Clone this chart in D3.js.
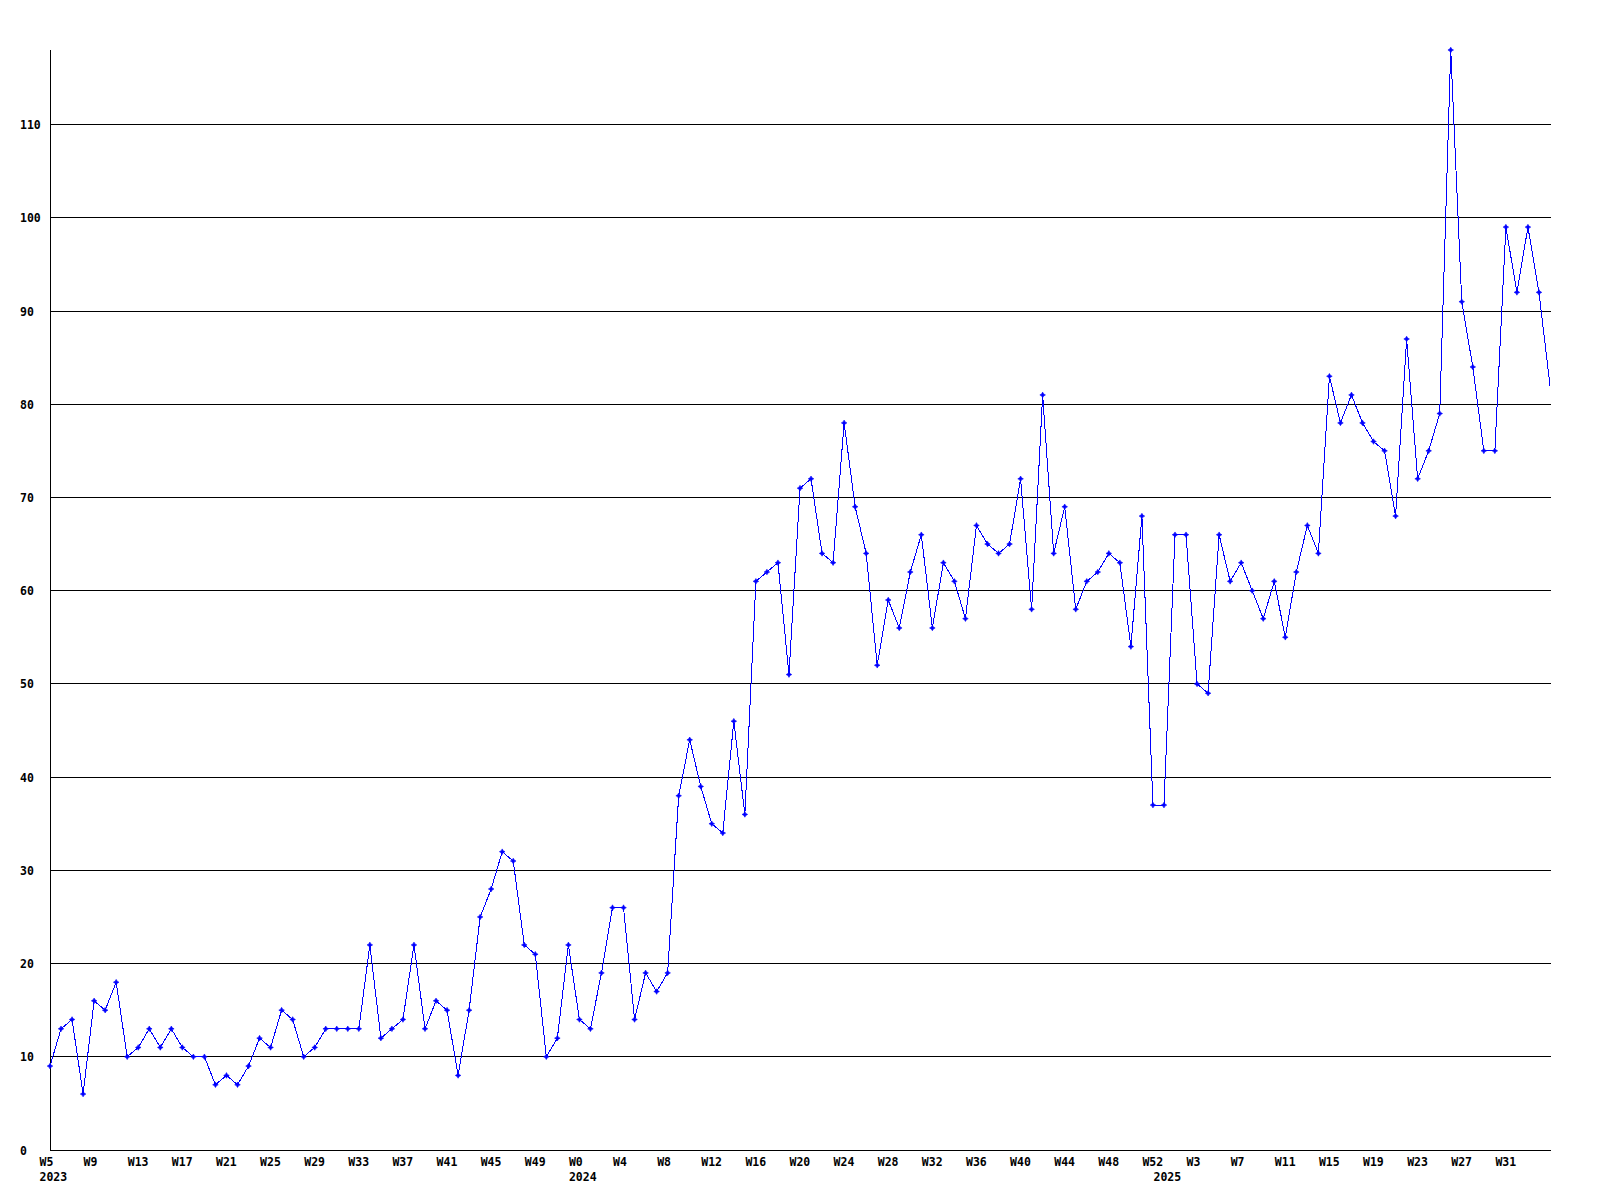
<!DOCTYPE html>
<html>
<head>
<meta charset="utf-8">
<script src="https://cdn.jsdelivr.net/npm/d3@7"></script>
<style>
  html, body { margin: 0; padding: 0; background: #ffffff; }
  svg { display: block; }
  text { font-family: "DejaVu Sans Mono", "Liberation Mono", monospace; font-weight: bold; font-size: 11.5px; fill: #000000; }
</style>
</head>
<body>
<svg id="chart" width="1600" height="1200"></svg>
<script>
// ---- data ----
const years = ["2023", "2024", "2025"];
const weeks2023 = [5,6,7,8,9,10,11,12,13,14,15,16,17,18,19,20,21,22,23,24,25,26,27,28,29,30,31,32,33,34,35,36,37,38,39,40,41,42,43,44,45,46,47,48,49,50,51,52];
const weeks2024 = [0,1,2,3,4,5,6,7,8,9,10,11,12,13,14,15,16,17,18,19,20,21,22,23,24,25,26,27,28,29,30,31,32,33,34,35,36,37,38,39,40,41,42,43,44,45,46,47,48,49,50,51,52];
const weeks2025 = [0,1,2,3,4,5,6,7,8,9,10,11,12,13,14,15,16,17,18,19,20,21,22,23,24,25,26,27,28,29,30,31,32,33,34,35];
const values2023 = [9,13,14,6,16,15,18,10,11,13,11,13,11,10,10,7,8,7,9,12,11,15,14,10,11,13,13,13,13,22,12,13,14,22,13,16,15,8,15,25,28,32,31,22,21,10,12,22];
const values2024 = [14,13,19,26,26,14,19,17,19,38,44,39,35,34,46,36,61,62,63,51,71,72,64,63,78,69,64,52,59,56,62,66,56,63,61,57,67,65,64,65,72,58,81,64,69,58,61,62,64,63,54,68,37];
const values2025 = [37,66,66,50,49,66,61,63,60,57,61,55,62,67,64,83,78,81,78,76,75,68,87,72,75,79,118,91,84,75,75,99,92,99,92,82];
const yTicks = [0,10,20,30,40,50,60,70,80,90,100,110];
const labelEvery = 4;

// ---- build table ----
const weekLists = [weeks2023, weeks2024, weeks2025];
const valueLists = [values2023, values2024, values2025];
const data = [];
years.forEach((yr, yi) => {
  weekLists[yi].forEach((w, wi) => {
    data.push({ key: yr + "-W" + w, year: yr, week: w, value: valueLists[yi][wi], firstOfYear: wi === 0 });
  });
});
const lastIndex = data.length - 1;

// ---- layout ----
const plotLeft = 50, plotRight = 1550, plotTop = 50, plotBottom = 1150;
const svg = d3.select("#chart");

const x = d3.scalePoint().domain(data.map(d => d.key)).range([plotLeft, plotRight]);
const y = d3.scaleLinear().domain([0, d3.max(data, d => d.value)]).range([plotBottom, plotTop]);

// gridlines
svg.append("g").selectAll("line").data(yTicks).join("line")
  .attr("x1", plotLeft).attr("x2", plotRight + 1)
  .attr("y1", d => Math.floor(y(d)) + 0.5).attr("y2", d => Math.floor(y(d)) + 0.5)
  .attr("stroke", "#000").attr("stroke-width", 1)
  .attr("shape-rendering", "crispEdges");

// y axis line
svg.append("line")
  .attr("x1", plotLeft + 0.5).attr("x2", plotLeft + 0.5)
  .attr("y1", plotTop).attr("y2", plotBottom + 1)
  .attr("stroke", "#000").attr("stroke-width", 1)
  .attr("shape-rendering", "crispEdges");

// y tick labels
svg.append("g").selectAll("text").data(yTicks).join("text")
  .attr("x", 20)
  .attr("y", d => Math.floor(y(d)) + 4.5)
  .attr("text-anchor", "start")
  .text(d => d);

// x tick labels (weeks)
svg.append("g").selectAll("text").data(data.filter((d, i) => i % labelEvery === 0 && i < lastIndex)).join("text")
  .attr("x", d => x(d.key) - 10.5)
  .attr("y", 1166)
  .attr("text-anchor", "start")
  .text(d => "W" + d.week);

// year labels
svg.append("g").selectAll("text").data(data.filter(d => d.firstOfYear)).join("text")
  .attr("x", d => x(d.key) - 10.5)
  .attr("y", 1181)
  .attr("text-anchor", "start")
  .text(d => d.year);

// line
const line = d3.line().x(d => x(d.key)).y(d => y(d.value));
svg.append("path")
  .datum(data)
  .attr("d", line)
  .attr("fill", "none")
  .attr("stroke", "#0000ff")
  .attr("stroke-width", 1)
  .attr("shape-rendering", "crispEdges");

// markers (none on the final point, as in the reference)
const marker = "M0,-2.8L1,-1L2.8,0L1,1L0,2.8L-1,1L-2.8,0L-1,-1Z";
svg.append("g").selectAll("path").data(data.filter((d, i) => i < lastIndex)).join("path")
  .attr("transform", d => `translate(${x(d.key)},${y(d.value)})`)
  .attr("d", marker)
  .attr("fill", "#0000ff")
  .attr("stroke", "#0000ff")
  .attr("stroke-width", 0.6);
</script>
</body>
</html>
